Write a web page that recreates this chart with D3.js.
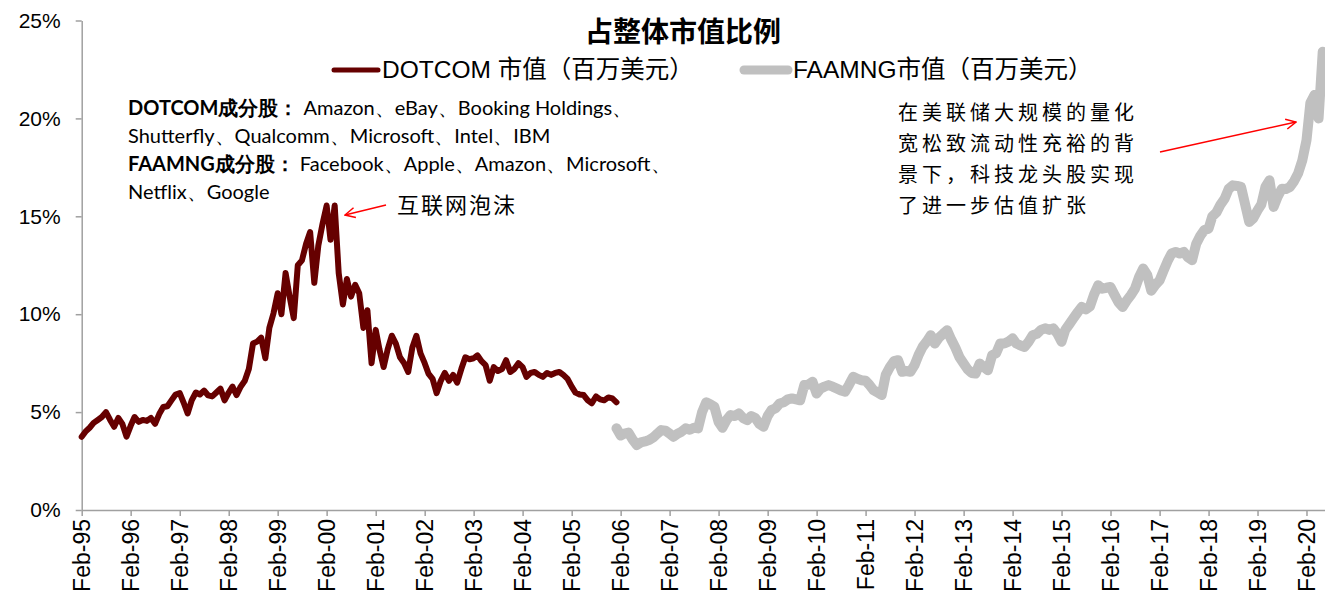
<!DOCTYPE html>
<html>
<head>
<meta charset="utf-8">
<script src="https://cdn.jsdelivr.net/npm/d3@7"></script>
<style>
  body { margin: 0; background: #fff; }
  svg { display: block; }
  .axis path, .axis line { stroke: #a0a0a0; stroke-width: 1.5; }
  .axis text { font-family: "Liberation Sans", Arial, sans-serif; fill: #000; }
  .cjk { font-family: "Noto Sans CJK SC", sans-serif; }
  .note { font-family: Lato, "Noto Sans", sans-serif; }
</style>
</head>
<body>
<svg id="chart" width="1325" height="598"></svg>
<script>
// monthly share of total market cap (%), DOTCOM starts Feb-1995
const dotcomStart = "1995-02";
const dotcomValues = [
  3.74, 4.0, 4.2, 4.45, 4.6, 4.75, 5.0, 4.6, 4.25, 4.7, 4.4, 3.75,
  4.3, 4.75, 4.5, 4.6, 4.55, 4.7, 4.4, 4.9, 5.26, 5.3, 5.6, 5.9,
  5.97, 5.5, 4.93, 5.6, 6.0, 5.9, 6.1, 5.85, 5.8, 6.0, 6.2, 5.6,
  6.0, 6.3, 5.87, 6.3, 6.6, 7.2, 8.5, 8.6, 8.8, 7.75, 9.3, 10.05,
  11.07, 10.0, 12.1, 10.9, 9.8, 12.5, 12.75, 13.6, 14.2, 11.6, 13.5, 14.6,
  15.55, 13.8, 15.55, 12.1, 10.5, 11.8, 10.9, 11.5, 11.07, 9.3, 10.2, 7.5,
  9.2, 8.2, 7.3, 8.2, 8.9, 8.5, 7.8, 7.5, 7.05, 8.3, 8.9, 8.0,
  7.5, 6.97, 6.7, 5.97, 6.6, 7.0, 6.6, 6.9, 6.5, 7.2, 7.8, 7.7,
  7.75, 7.9, 7.6, 7.4, 6.6, 7.3, 7.1, 7.2, 7.65, 7.05, 7.2, 7.5,
  7.3, 6.8, 7.0, 7.05, 6.9, 6.8, 7.0, 6.9, 7.0, 7.05, 6.9, 6.7,
  6.3, 6.0, 5.9, 5.87, 5.6, 5.45, 5.8, 5.65, 5.6, 5.75, 5.7, 5.5
];

// FAAMNG starts Jan-2006
const faamngStart = "2006-01";
const faamngValues = [
  4.17,
  3.8, 3.9, 3.95, 3.6, 3.32, 3.45, 3.5, 3.57, 3.7, 3.9, 4.08, 4.05,
  3.9, 3.74, 3.9, 4.0, 4.17, 4.1, 4.2, 4.17, 5.0, 5.5, 5.4, 5.27,
  4.5, 4.2, 4.6, 4.85, 4.8, 4.93, 4.7, 4.59, 4.8, 4.7, 4.4, 4.25,
  4.8, 5.1, 5.2, 5.44, 5.5, 5.65, 5.7, 5.65, 5.6, 6.38, 6.4, 6.55,
  5.95, 6.2, 6.3, 6.38, 6.3, 6.2, 6.1, 6.04, 6.4, 6.8, 6.7, 6.63,
  6.6, 6.4, 6.12, 6.0, 5.87, 6.9, 7.3, 7.6, 7.65, 7.06, 7.1, 7.06,
  7.4, 7.9, 8.33, 8.6, 8.93, 8.5, 8.8, 9.0, 9.18, 8.7, 8.3, 7.8,
  7.48, 7.2, 7.0, 6.97, 7.48, 7.3, 7.14, 7.9, 8.0, 8.5, 8.5, 8.6,
  8.77, 8.5, 8.4, 8.33, 8.6, 8.93, 9.0, 9.2, 9.28, 9.2, 9.28, 9.0,
  8.59, 9.2, 9.5, 9.8, 10.1, 10.37, 10.25, 10.4, 11.0, 11.48, 11.3, 11.35,
  11.39, 11.0, 10.6, 10.37, 10.7, 10.97, 11.3, 11.9, 12.33, 12.0, 11.2, 11.5,
  11.73, 12.2, 12.7, 13.1, 13.18, 13.1, 13.18, 12.9, 12.76, 13.6, 14.0, 14.3,
  14.37, 15.0, 15.2, 15.6, 15.9, 16.4, 16.58, 16.55, 16.5, 15.6, 14.71, 14.9,
  15.3, 15.6, 16.5, 16.84, 15.48, 16.0, 16.41, 16.4, 16.5, 16.8, 17.2, 17.86,
  18.88, 20.8, 21.2, 20.0, 23.4
];

const tickYears = d3.range(1995, 2021);
const yTicks = [0, 5, 10, 15, 20, 25];

const title = "占整体市值比例";
const seriesNames = ["DOTCOM 市值（百万美元）", "FAAMNG市值（百万美元）"];
const constituents = [
  ["DOTCOM成分股：", " Amazon、eBay、Booking Holdings、"],
  ["", "Shutterfly、Qualcomm、Microsoft、Intel、IBM"],
  ["FAAMNG成分股：", " Facebook、Apple、Amazon、Microsoft、"],
  ["", "Netflix、Google"]
];
const bubbleNote = "互联网泡沫";
const qeNote = ["在美联储大规模的量化", "宽松致流动性充裕的背", "景下，科技龙头股实现", "了进一步估值扩张"];

const parseMonth = d3.timeParse("%Y-%m");
const toSeries = (start, vals) => vals.map((v, i) => ({ date: d3.timeMonth.offset(parseMonth(start), i), value: v }));
const dotcom = toSeries(dotcomStart, dotcomValues);
const faamng = toSeries(faamngStart, faamngValues);

const svg = d3.select("#chart");
const plotLeft = 81.7, plotRight = 1325, plotTop = 20.5, plotBottom = 510;

const x = d3.scaleTime()
  .domain([new Date(1995, 1, 1), new Date(2020, 5, 18)])
  .range([plotLeft, plotRight]);
const y = d3.scaleLinear().domain([0, 25]).range([plotBottom, plotTop]);

// axes
const yAxis = svg.append("g")
  .attr("class", "axis")
  .attr("transform", `translate(${plotLeft},0)`)
  .call(d3.axisLeft(y).tickValues(yTicks).tickFormat(d => d + "%").tickSize(6).tickSizeOuter(0).tickPadding(15));
yAxis.selectAll("text").style("font-size", "21px");

const xAxis = svg.append("g")
  .attr("class", "axis")
  .attr("transform", `translate(0,${plotBottom})`)
  .call(d3.axisBottom(x)
    .tickValues(tickYears.map(yr => new Date(yr, 1, 1)))
    .tickFormat(d3.timeFormat("Feb-%y"))
    .tickSize(6).tickSizeOuter(0));
xAxis.selectAll("text")
  .style("font-size", "23px")
  .attr("text-anchor", "end")
  .attr("transform", "rotate(-90)")
  .attr("x", -9)
  .attr("y", 0)
  .attr("dy", "0.35em");

// lines
const line = d3.line().x(d => x(d.date)).y(d => y(d.value));

svg.append("path")
  .datum(faamng)
  .attr("fill", "none")
  .attr("stroke", "#c0c0c0")
  .attr("stroke-width", 10)
  .attr("stroke-linejoin", "round")
  .attr("stroke-linecap", "round")
  .attr("d", line);

svg.append("path")
  .datum(dotcom)
  .attr("fill", "none")
  .attr("stroke", "#660000")
  .attr("stroke-width", 6)
  .attr("stroke-linejoin", "round")
  .attr("stroke-linecap", "round")
  .attr("d", line);

// title
svg.append("text")
  .attr("class", "cjk")
  .attr("x", 683)
  .attr("y", 42)
  .attr("text-anchor", "middle")
  .style("font-size", "28px")
  .style("font-weight", "bold")
  .text(title);

// legend
const legend = svg.append("g");
legend.append("line")
  .attr("x1", 334).attr("x2", 378).attr("y1", 70).attr("y2", 70)
  .attr("stroke", "#660000").attr("stroke-width", 5).attr("stroke-linecap", "round");
legend.append("text")
  .attr("x", 382).attr("y", 78)
  .style("font-family", "'Liberation Sans', 'Noto Sans CJK SC', sans-serif")
  .style("font-size", "24.5px")
  .text(seriesNames[0]);
legend.append("line")
  .attr("x1", 744).attr("x2", 788).attr("y1", 70).attr("y2", 70)
  .attr("stroke", "#c0c0c0").attr("stroke-width", 9).attr("stroke-linecap", "round");
legend.append("text")
  .attr("x", 793).attr("y", 78)
  .style("font-family", "'Liberation Sans', 'Noto Sans CJK SC', sans-serif")
  .style("font-size", "24.5px")
  .text(seriesNames[1]);

// constituents note
const note = svg.append("text").attr("class", "note").style("font-size", "20px");
constituents.forEach((row, i) => {
  const t = note.append("tspan").attr("x", 128).attr("y", 115 + i * 28);
  if (row[0]) t.append("tspan").style("font-weight", "bold").text(row[0]);
  t.append("tspan").text(row[1]);
});

// arrows
const defs = svg.append("defs");
defs.append("marker")
  .attr("id", "arrow")
  .attr("viewBox", "0 0 12 12")
  .attr("refX", 11).attr("refY", 6)
  .attr("markerWidth", 12).attr("markerHeight", 12)
  .attr("markerUnits", "userSpaceOnUse")
  .attr("orient", "auto")
  .append("path")
  .attr("d", "M1,1 L11,6 L1,11")
  .attr("fill", "none")
  .attr("stroke", "#ff0000")
  .attr("stroke-width", 1.5);

svg.append("line")
  .attr("x1", 386).attr("y1", 205).attr("x2", 345).attr("y2", 215)
  .attr("stroke", "#ff0000").attr("stroke-width", 1.5)
  .attr("marker-end", "url(#arrow)");
svg.append("text")
  .attr("class", "cjk")
  .attr("x", 397).attr("y", 213)
  .style("font-size", "22px")
  .style("letter-spacing", "2px")
  .text(bubbleNote);

svg.append("line")
  .attr("x1", 1160).attr("y1", 152).attr("x2", 1296).attr("y2", 122)
  .attr("stroke", "#ff0000").attr("stroke-width", 1.5)
  .attr("marker-end", "url(#arrow)");
const qe = svg.append("text").attr("class", "cjk").style("font-size", "20px").style("letter-spacing", "4px");
qeNote.forEach((s, i) => {
  qe.append("tspan").attr("x", 898).attr("y", 120 + i * 31).text(s);
});
</script>
</body>
</html>
